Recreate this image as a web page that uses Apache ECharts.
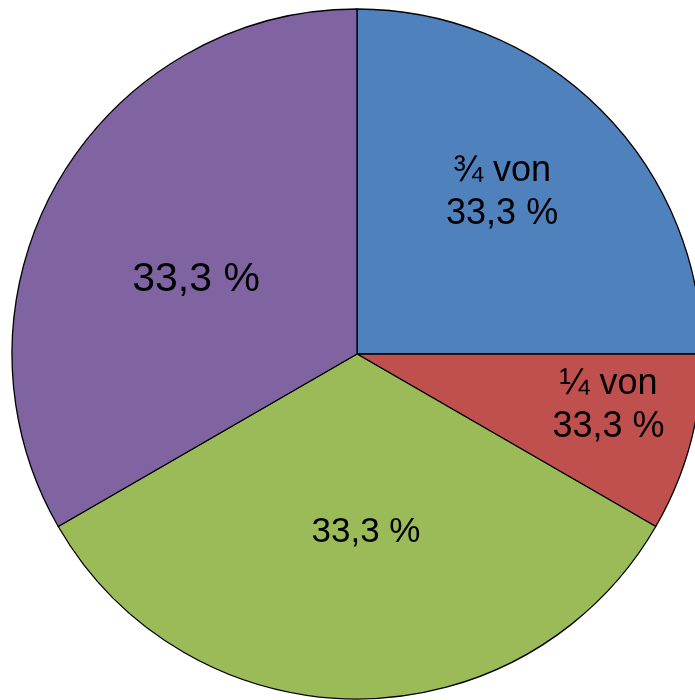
<!DOCTYPE html>
<html>
<head>
<meta charset="utf-8">
<script src="https://cdn.jsdelivr.net/npm/echarts@6/dist/echarts.min.js"></script>
<style>
  html, body { margin: 0; padding: 0; background: #fff; }
  #main { width: 695px; height: 700px; }
</style>
</head>
<body>
<div id="main"></div>
<script>
var sliceNames = ['¾ von 33,3 %', '¼ von 33,3 %', '33,3 % unten', '33,3 % links'];
var sliceValues = [25, 8.333, 33.333, 33.333];
var sliceLabels = ['¾ von\n33,3 %', '¼ von\n33,3 %', '33,3 %', '33,3 %'];
var sliceColors = ['#4F81BD', '#C0504D', '#9BBB59', '#8064A2'];
var labelSizes = [36, 36, 35, 41];
// nudges from the default inside spot
var labelShift = [[21, -37], [82, 6], [9, 3], [-9, 13]];

var myChart = echarts.init(document.getElementById('main'));
var data = sliceValues.map(function (v, i) {
    return {
        name: sliceNames[i],
        value: v,
        itemStyle: { color: sliceColors[i] },
        label: { formatter: sliceLabels[i], fontSize: labelSizes[i], lineHeight: labelSizes[i] * 1.2 }
    };
});
option = {
    animation: false,
    series: [{
        type: 'pie',
        center: [357, 354],
        radius: [0, 345],
        startAngle: 90,
        clockwise: true,
        itemStyle: { borderColor: '#000', borderWidth: 1.3 },
        label: {
            position: 'inside',
            color: '#000',
            fontFamily: 'Liberation Sans, Arial, sans-serif'
        },
        labelLine: { show: false },
        emphasis: { disabled: true },
        labelLayout: function (params) {
            var s = labelShift[params.dataIndex];
            return { dx: s[0], dy: s[1] };
        },
        data: data
    }]
};
myChart.setOption(option);
</script>
</body>
</html>
